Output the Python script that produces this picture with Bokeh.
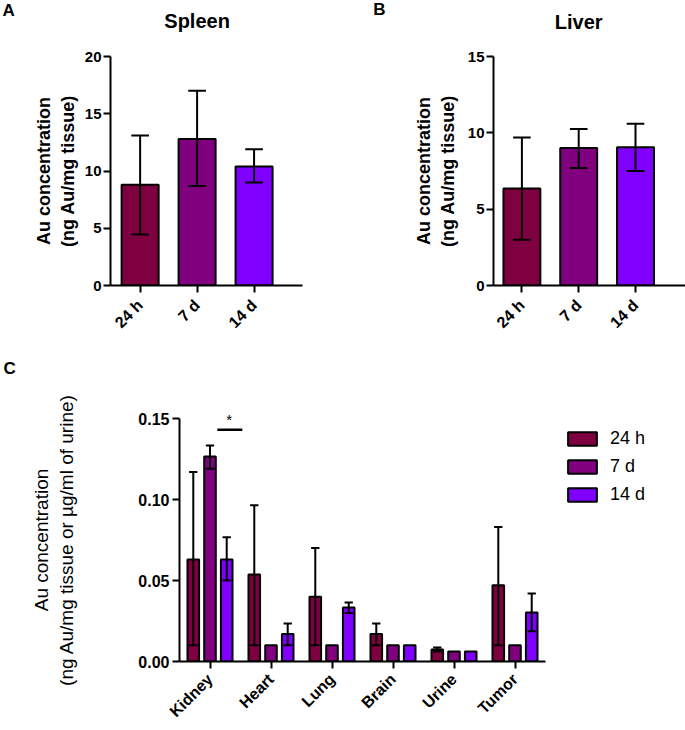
import math
from bokeh.plotting import figure
from bokeh.models import (Range1d, FixedTicker, Label, Legend, LegendItem,
                          ColumnDataSource, NumeralTickFormatter)
from bokeh.layouts import row, column
from bokeh.embed import file_html
from bokeh.resources import INLINE

FONT = "Liberation Sans"

# ---------------- data ----------------
times = ["24 h", "7 d", "14 d"]
time_colors = ["#7F0040", "#800080", "#8000FF"]

spleen_mean = [8.8, 12.8, 10.4]
spleen_hi = [13.1, 17.0, 11.9]
spleen_lo = [4.45, 8.7, 9.0]

liver_mean = [6.35, 9.0, 9.05]
liver_hi = [9.7, 10.25, 10.6]
liver_lo = [3.0, 7.7, 7.5]

organs = ["Kidney", "Heart", "Lung", "Brain", "Urine", "Tumor"]
h24_mean = [0.063, 0.0537, 0.040, 0.0169, 0.0074, 0.047]
h24_hi = [0.117, 0.0965, 0.070, 0.0235, 0.0086, 0.083]
h24_lo = [0.010, 0.010, 0.010, 0.010, 0.0062, 0.010]
d7_mean = [0.1265, 0.010, 0.010, 0.010, 0.0062, 0.010]
d7_hi = [0.1333, 0.010, 0.010, 0.010, 0.0062, 0.010]
d7_lo = [0.119, 0.010, 0.010, 0.010, 0.0062, 0.010]
d14_mean = [0.063, 0.0169, 0.0333, 0.010, 0.0062, 0.0302]
d14_hi = [0.0767, 0.0235, 0.0364, 0.010, 0.0062, 0.042]
d14_lo = [0.050, 0.010, 0.030, 0.010, 0.0062, 0.0187]

sig_organ = "Kidney"
sig_y = 0.143


def style_common(p):
    p.toolbar_location = None
    p.outline_line_color = None
    p.xgrid.visible = False
    p.ygrid.visible = False
    p.background_fill_color = "white"
    p.border_fill_color = "white"
    for ax in (p.xaxis[0], p.yaxis[0]):
        ax.axis_line_width = 2
        ax.axis_line_color = "black"
        ax.major_tick_line_width = 2
        ax.major_tick_line_color = "black"
        ax.major_tick_out = 7
        ax.major_tick_in = 0
        ax.minor_tick_line_color = None
        ax.major_label_text_font = FONT
        ax.major_label_text_color = "black"
        ax.axis_label_text_font = FONT
        ax.axis_label_text_color = "black"


def draw_errors(p, xs, means, his, los, cap, lw=2):
    vx, vy0, vy1, cx0, cx1, cy = [], [], [], [], [], []
    for x, m, h, l in zip(xs, means, his, los):
        if h > m or l < m:
            vx.append(x); vy0.append(l); vy1.append(h)
            for yy in (h, l):
                cx0.append(x - cap); cx1.append(x + cap); cy.append(yy)
    p.segment(x0=vx, y0=vy0, x1=vx, y1=vy1, line_color="black", line_width=lw)
    p.segment(x0=cx0, y0=cy, x1=cx1, y1=cy, line_color="black", line_width=lw)


def text_label(x, y, text, size, bold=True, align="left"):
    return Label(x=x, y=y, text=text, text_font=FONT, text_font_size=size,
                 text_font_style="bold" if bold else "normal",
                 text_color="black", text_align=align, text_baseline="middle")


def time_panel(mean, hi, lo, title, letter, width, y_max, x_range, borders,
               title_y, letter_x, letter_y, label_standoff):
    p = figure(width=width, height=360, output_backend="svg",
               toolbar_location=None,
               x_range=Range1d(*x_range), y_range=Range1d(0, y_max),
               min_border_left=borders[0], min_border_right=borders[1],
               min_border_top=borders[2], min_border_bottom=borders[3])
    style_common(p)
    xs = list(range(len(times)))
    src = ColumnDataSource(dict(x=xs, top=mean, color=time_colors))
    p.vbar(x="x", top="top", bottom=0, width=0.65, source=src,
           fill_color="color", line_color="black", line_width=2)
    draw_errors(p, xs, mean, hi, lo, 0.155)

    p.xaxis.ticker = FixedTicker(ticks=xs)
    p.xaxis.major_label_overrides = {i: t for i, t in enumerate(times)}
    p.xaxis.major_label_orientation = math.pi / 4
    p.xaxis.major_label_text_font_size = "16px"
    p.xaxis.major_label_text_font_style = "bold"
    p.xaxis.major_label_standoff = 10

    p.yaxis.ticker = FixedTicker(ticks=list(range(0, y_max + 1, 5)))
    p.yaxis.major_label_text_font_size = "15px"
    p.yaxis.major_label_text_font_style = "bold"
    p.yaxis.major_label_standoff = 2
    p.yaxis.axis_label = "Au concentration\n(ng Au/mg tissue)"
    p.yaxis.axis_label_text_font_size = "18px"
    p.yaxis.axis_label_text_font_style = "bold"
    p.yaxis.axis_label_standoff = label_standoff

    p.add_layout(text_label(1, title_y, title, "20px", align="center"), "above")
    p.add_layout(text_label(letter_x, letter_y, letter, "17px"), "above")
    return p


pA = time_panel(spleen_mean, spleen_hi, spleen_lo, "Spleen", "A", 340, 20,
                (-0.52, 2.85), (110, 38, 56, 75), 23.06, -2.415, 24.02, 4)
pB = time_panel(liver_mean, liver_hi, liver_lo, "Liver", "B", 345, 15,
                (-0.5, 2.88), (153, 0, 56, 75), 17.29, -2.615, 18.07, 7)

# ---------------- panel C ----------------
pC = figure(width=560, height=370, output_backend="svg", toolbar_location=None,
            x_range=Range1d(-0.5, len(organs) - 0.5), y_range=Range1d(0, 0.15),
            min_border_left=179, min_border_right=15,
            min_border_top=58, min_border_bottom=69)
style_common(pC)

offsets = [-0.274, 0.0, 0.274]
series = [(h24_mean, h24_hi, h24_lo), (d7_mean, d7_hi, d7_lo),
          (d14_mean, d14_hi, d14_lo)]
for (m, h, l), off, col in zip(series, offsets, time_colors):
    xs = [i + off for i in range(len(organs))]
    pC.vbar(x=xs, top=m, bottom=0, width=0.19, fill_color=col,
            line_color="black", line_width=2)
for (m, h, l), off in zip(series, offsets):
    xs = [i + off for i in range(len(organs))]
    draw_errors(pC, xs, m, h, l, 0.068)

ki = organs.index(sig_organ)
pC.segment(x0=[ki + 0.12], y0=[sig_y], x1=[ki + 0.53], y1=[sig_y],
           line_color="black", line_width=2.5)
pC.add_layout(text_label(ki + 0.315, 0.1494, "*", "15px", bold=False,
                         align="center"), "above")
pC.add_layout(text_label(-3.385, 0.1809, "C", "17px"), "above")

pC.xaxis.ticker = FixedTicker(ticks=list(range(len(organs))))
pC.xaxis.major_label_overrides = {i: o for i, o in enumerate(organs)}
pC.xaxis.major_label_orientation = math.pi / 4
pC.xaxis.major_label_text_font_size = "16px"
pC.xaxis.major_label_text_font_style = "bold"
pC.xaxis.major_label_standoff = 8

pC.yaxis.ticker = FixedTicker(ticks=[0, 0.05, 0.10, 0.15])
pC.yaxis.formatter = NumeralTickFormatter(format="0.00")
pC.yaxis.major_label_text_font_size = "16px"
pC.yaxis.major_label_text_font_style = "bold"
pC.yaxis.major_label_standoff = 3
pC.yaxis.axis_label = "Au concentration\n(ng Au/mg tissue or µg/ml of urine)"
pC.yaxis.axis_label_text_font_size = "19px"
pC.yaxis.axis_label_text_font_style = "normal"
pC.yaxis.axis_label_standoff = 58

# ---------------- legend panel ----------------
pL = figure(width=125, height=370, output_backend="svg", toolbar_location=None,
            x_axis_type=None, y_axis_type=None,
            x_range=Range1d(0, 1), y_range=Range1d(0, 1),
            min_border_left=0, min_border_right=0,
            min_border_top=0, min_border_bottom=0)
pL.outline_line_color = None
pL.xgrid.visible = False
pL.ygrid.visible = False
items = []
for col, name in zip(time_colors, times):
    # zero-size proxy bar (draws nothing itself) that carries the swatch style
    r = pL.vbar(x=[0.18], top=[0.93], bottom=[0.93], width=0,
                fill_color=col, line_color="black", line_width=2)
    items.append(LegendItem(label=name, renderers=[r]))
legend = Legend(items=items, location=(4, 156), glyph_width=36,
                glyph_height=17, label_height=20, spacing=7, padding=0,
                margin=0, label_standoff=10, border_line_color=None,
                background_fill_alpha=0, label_text_font=FONT,
                label_text_color="black", label_text_font_size="18px")
pL.add_layout(legend, "center")

layout = column(row(pA, pB), row(pC, pL))
open("out.html", "w").write(file_html(layout, INLINE))
